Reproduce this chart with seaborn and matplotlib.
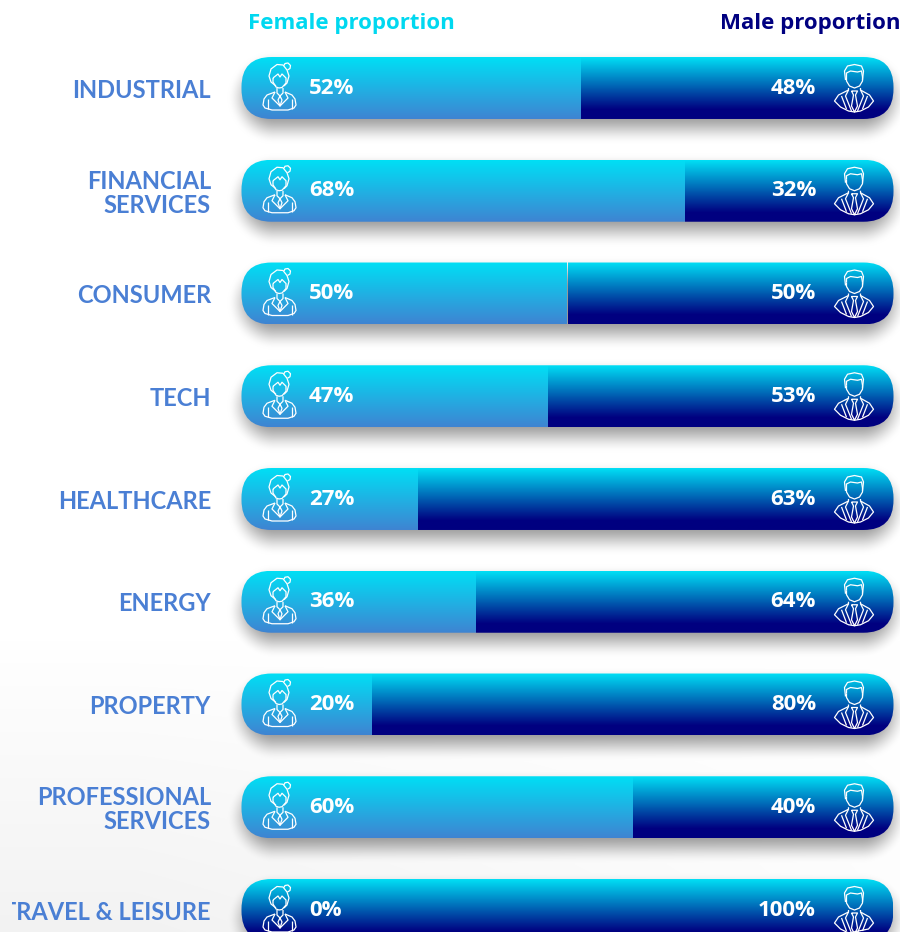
import numpy as np
import matplotlib
matplotlib.use("Agg")
import matplotlib.pyplot as plt
import seaborn as sns
from matplotlib.colors import LinearSegmentedColormap
from matplotlib.patches import FancyBboxPatch, PathPatch
from matplotlib.path import Path
from matplotlib.transforms import Affine2D, Bbox

# Data
categories = ["INDUSTRIAL", "FINANCIAL\nSERVICES", "CONSUMER", "TECH", "HEALTHCARE",
              "ENERGY", "PROPERTY", "PROFESSIONAL\nSERVICES", "TRAVEL & LEISURE"]
female = [52, 68, 50, 47, 27, 36, 20, 60, 0]
male = [48, 32, 50, 53, 63, 64, 80, 40, 100]
totals = [100] * len(categories)

W, H = 900, 932
BAR_LEFT, BAR_RIGHT = 241.5, 893.5
FIRST_Y, STEP_Y = 88, 102.75
RADIUS = 30

sns.set_theme(style="white")
plt.rcParams["font.family"] = ["Lato", "DejaVu Sans"]

fig = plt.figure(figsize=(W / 100, H / 100), dpi=100)
bg = fig.add_axes([0, 0, 1, 1], zorder=0)
bg.set_axis_off()
ax = fig.add_axes([BAR_LEFT / W, 0, (BAR_RIGHT - BAR_LEFT) / W, 1], zorder=1)
ax.patch.set_alpha(0)

# Bars through seaborn, the gradients are painted over them afterwards
sns.barplot(x=totals, y=categories, color="#000080", width=0.603, ax=ax)
sns.barplot(x=female, y=categories, color="#3c86d4", width=0.603, ax=ax)
ax.set_xlim(0, 100)
ax.set_ylim((H - FIRST_Y) / STEP_Y, -FIRST_Y / STEP_Y)
ax.xaxis.set_visible(False)
sns.despine(ax=ax, left=True, bottom=True)
ax.tick_params(axis="y", length=0, pad=22)

n = len(categories)
male_bars = ax.patches[:n]
female_bars = ax.patches[n:2 * n]

# Background and soft shadows, worked out in pixels
yy, xx = np.mgrid[0:H, 0:W]
shade = 1 - 0.05 * np.clip((yy - 640) / 292, 0, 1) * np.clip(1.15 - xx / 900, 0, 1)
shadow = np.zeros((H, W))
for bar in male_bars:
    box = bar.get_window_extent()
    cx = (box.x0 + box.x1) / 2
    cy = H - (box.y0 + box.y1) / 2 + 9
    qx = np.abs(xx - cx) - (box.width / 2 - RADIUS - 3)
    qy = np.abs(yy - cy) - (box.height / 2 - RADIUS - 2)
    d = np.hypot(np.maximum(qx, 0), np.maximum(qy, 0)) + np.minimum(np.maximum(qx, qy), 0) - RADIUS
    t = np.clip((d + 14) / 32, 0, 1)
    shadow = np.maximum(shadow, 0.4 * (1 - t * t * (3 - 2 * t)))
bg.imshow(np.dstack([shade * (1 - shadow)] * 3), extent=(0, W, H, 0), aspect="auto", vmin=0, vmax=1)

# Gradients
female_cmap = LinearSegmentedColormap.from_list("f", ["#00dff5", "#3f84d2"])
male_cmap = LinearSegmentedColormap.from_list("m", [(0, "#00dff5"), (0.85, "#000080"), (1, "#000080")])
grad = np.linspace(0, 1, 128).reshape(-1, 1)
x_px = (BAR_RIGHT - BAR_LEFT) / 100
for i in range(n):
    mb, fb = male_bars[i], female_bars[i]
    mb.set_visible(False)
    fb.set_visible(False)
    y0, h = mb.get_y(), mb.get_height()
    # the male gradient only starts where the female one stops, so no dark rim shows at the corners
    for start, stop, cmap, z in [(fb.get_width(), mb.get_width(), male_cmap, 2), (0, fb.get_width(), female_cmap, 3)]:
        if stop <= start:
            continue
        im = ax.imshow(grad, cmap=cmap, aspect="auto", zorder=z, vmin=0, vmax=1,
                       extent=(start, stop, y0 + h, y0))
        clip = FancyBboxPatch((0, y0), 100, h, boxstyle=f"round,pad=0,rounding_size={RADIUS / x_px}",
                              mutation_aspect=x_px / STEP_Y, transform=ax.transData)
        im.set_clip_path(clip)
ax.set_xlim(0, 100)
ax.set_ylim((H - FIRST_Y) / STEP_Y, -FIRST_Y / STEP_Y)

# Category labels, the last one is cut off at the left in the source image
for lab in ax.get_yticklabels():
    lab.set_color("#4a7fd4")
    lab.set_fontsize(17)
    lab.set_fontweight("bold")
    lab.set_linespacing(1.05)
    lab.set_multialignment("right")
    lab.set_clip_on(True)
    lab.set_clip_box(Bbox([[12, 0], [W, H]]))

# Percentage labels
for i in range(n):
    ax.annotate(f"{female[i]}%", (0, i), xytext=(67.5 * 0.72, 0), textcoords="offset points",
                color="white", fontsize=16, fontweight="bold", family="Open Sans",
                ha="left", va="center", zorder=6)
    ax.annotate(f"{male[i]}%", (100, i), xytext=(-77.5 * 0.72, 0), textcoords="offset points",
                color="white", fontsize=16, fontweight="bold", family="Open Sans",
                ha="right", va="center", zorder=6)

# Header
fig.text(248 / W, 1 - 24 / H, "Female proportion", color="#00d8f0", fontsize=16, fontweight="bold",
         family="Open Sans", ha="left", va="center")
fig.text(900 / W, 1 - 24 / H, "Male proportion", color="#000080", fontsize=16, fontweight="bold",
         family="Open Sans", ha="right", va="center")

# Outline icons, in pixels around the icon centre
woman = [
    [(-4, -2), (-9, -6), (-11, -12), (-9, -19), (-3, -23.5), (3, -23), (7, -18), (9, -12), (7, -5), (4, -2)],
    [(-7, -10), (-2, -14), (0, -11), (2, -14), (6, -10), (6, -5), (2, -0.5), (-1, 0), (-4, -1), (-7, -6), (-7, -10)],
    [(4, -22.5), (5, -24.5), (8, -25), (10.5, -22.5), (10, -19.5), (7.5, -18)],
    [(-5, 4), (-13, 7), (-16, 11), (-17, 17), (-15, 20), (-8, 22), (8, 22), (14, 20), (16, 17), (15, 11), (12, 7), (5, 4)],
    [(-5, 4), (-8, 10), (0, 18), (8, 10), (5, 4)],
    [(-3, 0), (-3, 5), (0, 8), (3, 5), (3, 0)],
    [(0, 8), (-2, 12), (0, 18), (2, 12), (0, 8)],
    [(-12, 11), (-12, 21)],
    [(12, 11), (12, 21)],
]
man = [
    [(-9, -8), (-10, -17), (-7, -22), (0, -23.5), (7, -22), (9, -17), (8, -8)],
    [(-8, -11), (-8, -15), (-4, -17), (3, -16), (7, -17), (8, -11)],
    [(-8, -11), (-8, -7), (-5, -2), (0, 0), (5, -2), (8, -7), (8, -11)],
    [(-6, 0), (-6, 2), (-16, 7), (-20, 13), (-14, 19), (-6, 23), (0, 24), (6, 23), (14, 19), (19, 13), (15, 7), (6, 2), (6, 0)],
    [(-6, 2), (-9, 8), (-3, 23)],
    [(6, 2), (9, 8), (3, 23)],
    [(-3, 3), (3, 3), (1, 7), (3, 18), (0, 24), (-3, 18), (-1, 7), (-3, 3)],
    [(-13, 8), (-8, 21)],
    [(13, 8), (8, 21)],
]


def draw_icon(strokes, cx, cy):
    to_display = Affine2D().translate(cx, cy).scale(1, -1).translate(0, H)
    for pts in strokes:
        ax.add_patch(PathPatch(Path(pts), fill=False, edgecolor="white", lw=0.9, zorder=6,
                               joinstyle="round", transform=to_display, clip_on=False))


for i in range(n):
    cy = FIRST_Y + i * STEP_Y
    draw_icon(woman, BAR_LEFT + 38.5, cy)
    draw_icon(man, BAR_RIGHT - 39, cy)

fig.savefig("out.png", dpi=100)
